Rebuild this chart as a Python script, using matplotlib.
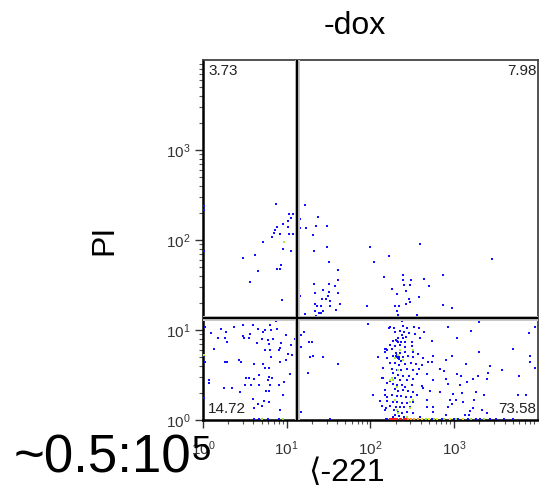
import numpy as np
import matplotlib
matplotlib.use("Agg")
import matplotlib.pyplot as plt
from matplotlib.ticker import NullFormatter

plt.rcParams['font.family'] = ['Liberation Sans', 'DejaVu Sans']
plt.rcParams['mathtext.fontset'] = 'custom'
plt.rcParams['mathtext.rm'] = 'Liberation Sans'

# all event values are log10 intensities (x: <-221 channel, y: PI)
# PI high, <-221 low
ul_x = [0.01, 0.01, 0.01, 0.87, 1.03, 1.07, 1.05, 1.01, 0.96, 0.88, 0.86, 0.85, 1.01, 0.82, 0.92,
        1.03, 1.07, 1.11, 0.72, 0.96, 1.05, 0.48, 0.62, 0.93, 0.88, 0.92, 0.66, 0.56, 0.94, 0.82]
ul_y = [2.38, 2.33, 1.88, 2.40, 2.29, 2.29, 2.24, 2.21, 2.18, 2.14, 2.11, 2.08, 2.14, 2.03, 2.07,
        2.07, 2.07, 2.03, 1.98, 1.90, 1.88, 1.80, 1.83, 1.72, 1.68, 1.68, 1.66, 1.53, 1.33, 1.14]

# PI high, <-221 high
ur_x = [1.16, 1.22, 1.37, 1.16, 1.23, 1.35, 1.48, 1.31, 1.48, 1.33, 1.50, 1.13, 1.33, 1.50, 1.43,
        1.34, 1.50, 1.61, 1.16, 1.49, 1.58, 1.61, 1.61, 1.42, 1.47, 1.52, 1.34, 1.36, 1.41, 1.52,
        1.64, 1.59, 1.34, 1.39, 1.41, 1.43, 1.22, 1.35, 1.99, 2.59, 2.04, 2.22, 2.16, 2.39, 2.87,
        2.39, 2.48, 2.40, 2.47, 2.64, 2.70, 2.26, 2.42, 2.32, 2.46, 2.47, 2.58, 1.96, 2.29, 2.34,
        2.42, 2.32, 2.33, 2.56, 2.87, 2.97, 3.45]
ur_y = [2.23, 2.39, 2.26, 2.13, 2.13, 2.16, 2.16, 2.06, 1.92, 1.88, 1.76, 1.64, 1.51, 1.51, 1.44,
        1.41, 1.42, 1.41, 1.38, 1.38, 1.49, 1.67, 1.56, 1.34, 1.34, 1.32, 1.29, 1.27, 1.27, 1.27,
        1.29, 1.22, 1.21, 1.19, 1.19, 1.21, 1.18, 1.16, 1.92, 1.96, 1.76, 1.82, 1.59, 1.61, 1.61,
        1.56, 1.56, 1.50, 1.50, 1.57, 1.49, 1.46, 1.43, 1.40, 1.34, 1.31, 1.37, 1.27, 1.27, 1.27,
        1.29, 1.21, 1.17, 1.17, 1.28, 1.24, 1.79]

# PI low, <-221 low
ll_x = [0.02, 0.10, 0.21, 0.27, 0.37, 0.48, 0.36, 0.60, 0.66, 0.72, 0.74, 0.80, 0.81, 0.88, 0.87,
        0.99, 0.48, 0.49, 0.55, 0.56, 0.26, 0.29, 0.18, 0.13, 0.70, 0.78, 0.84, 0.64, 0.79, 0.93,
        0.92, 1.10, 1.05, 0.74, 0.80, 0.91, 1.01, 1.06, 0.26, 0.29, 0.43, 0.45, 0.81, 0.61, 0.99,
        0.92, 0.74, 0.79, 0.72, 0.02, 1.04, 0.67, 0.79, 0.82, 0.78, 0.51, 0.55, 0.61, 0.07, 0.07,
        0.50, 0.57, 0.67, 0.80, 0.91, 0.97, 0.25, 0.35, 0.44, 0.75, 0.79, 0.96, 0.73, 0.79, 0.66,
        0.70, 0.92, 0.61, 0.60, 0.06, 0.47, 0.01, 0.01, 1.11]
ll_y = [1.03, 0.97, 1.01, 0.98, 1.03, 1.06, 1.11, 1.06, 1.01, 0.98, 1.00, 1.06, 1.00, 1.01, 1.10,
        0.94, 0.93, 0.91, 0.91, 0.96, 0.91, 0.87, 0.91, 0.79, 0.90, 0.89, 0.90, 0.86, 0.84, 0.86,
        0.80, 0.90, 0.83, 0.78, 0.78, 0.78, 0.73, 0.72, 0.64, 0.64, 0.67, 0.64, 0.70, 0.62, 0.67,
        0.64, 0.58, 0.58, 0.62, 0.64, 0.51, 0.50, 0.48, 0.47, 0.44, 0.47, 0.47, 0.46, 0.44, 0.41,
        0.39, 0.39, 0.39, 0.39, 0.39, 0.42, 0.36, 0.36, 0.31, 0.32, 0.32, 0.28, 0.21, 0.20, 0.18,
        0.16, 0.11, 0.13, 0.23, 0.04, 1.11, 0.71, 0.24, 0.80]

# PI low, between the gate and the main population
lm_x = [1.16, 1.13, 1.21, 1.15, 1.17, 1.13, 1.27, 1.30, 1.17, 1.13, 1.28, 1.31, 1.43, 1.61, 1.25,
        1.97, 2.09, 2.19, 2.17, 2.14, 2.03, 2.17, 2.11, 2.14, 2.19, 1.17, 1.52, 2.22, 1.36]
lm_y = [1.11, 1.07, 0.98, 0.94, 0.94, 0.89, 0.87, 0.87, 0.81, 0.74, 0.70, 0.71, 0.70, 0.62, 0.52,
        1.07, 0.70, 0.79, 0.76, 0.47, 0.28, 0.28, 0.21, 0.16, 0.13, 0.09, 0.01, 1.02, 1.14]

# main live population around 220
cl_x = [2.38, 2.23, 2.28, 2.39, 2.44, 2.52, 2.58, 2.64, 2.29, 2.35,
        2.40, 2.46, 2.38, 2.42, 2.33, 2.39, 2.53, 2.59, 2.27, 2.32,
        2.36, 2.41, 2.50, 2.23, 2.29, 2.35, 2.41, 2.50, 2.17, 2.20,
        2.26, 2.30, 2.35, 2.41, 2.51, 2.57, 2.27, 2.32, 2.34, 2.36,
        2.39, 2.45, 2.51, 2.63, 2.20, 2.23, 2.29, 2.34, 2.41, 2.48,
        2.54, 2.61, 2.15, 2.26, 2.32, 2.36, 2.44, 2.51, 2.58, 2.15,
        2.27, 2.33, 2.39, 2.46, 2.56, 2.29, 2.35, 2.44, 2.51, 2.23,
        2.20, 2.27, 2.32, 2.38, 2.41, 2.50, 2.61, 2.63, 2.17, 2.29,
        2.33, 2.39, 2.45, 2.51, 2.26, 2.32, 2.36, 2.42, 2.48, 2.56,
        2.20, 2.20, 2.27, 2.32, 2.38, 2.44, 2.51, 2.23, 2.30, 2.35,
        2.40, 2.47, 2.17, 2.28, 2.33, 2.38, 2.44, 2.51, 2.29, 2.34,
        2.40, 2.27, 2.59, 2.30, 2.33, 2.32, 2.34, 2.30, 2.33]
cl_y = [1.10, 1.03, 1.02, 1.04, 1.02, 1.03, 1.02, 0.98, 0.98, 0.99,
        0.98, 0.97, 0.94, 0.92, 0.91, 0.91, 0.96, 0.91, 0.88, 0.88,
        0.87, 0.87, 0.87, 0.83, 0.82, 0.83, 0.81, 0.82, 0.79, 0.78,
        0.79, 0.74, 0.74, 0.76, 0.76, 0.73, 0.71, 0.70, 0.68, 0.66,
        0.70, 0.71, 0.70, 0.69, 0.69, 0.63, 0.63, 0.61, 0.62, 0.63,
        0.62, 0.61, 0.58, 0.57, 0.56, 0.56, 0.57, 0.56, 0.57, 0.47,
        0.52, 0.50, 0.49, 0.49, 0.51, 0.47, 0.44, 0.44, 0.46, 0.43,
        0.41, 0.40, 0.39, 0.39, 0.37, 0.39, 0.38, 0.36, 0.33, 0.34,
        0.32, 0.33, 0.32, 0.31, 0.28, 0.27, 0.27, 0.26, 0.26, 0.28,
        0.26, 0.21, 0.20, 0.20, 0.19, 0.19, 0.20, 0.16, 0.14, 0.14,
        0.14, 0.14, 0.11, 0.11, 0.09, 0.08, 0.09, 0.08, 0.06, 0.04,
        0.03, 0.03, 0.03, 0.71, 0.69, 0.72, 0.70, 0.89, 0.87]

# PI low, <-221 high, scattered
lr_x = [2.93, 3.30, 3.20, 3.03, 2.73, 3.70, 3.30, 2.75, 2.97, 3.90,
        2.69, 2.73, 2.90, 3.14, 3.43, 3.90, 2.83, 2.88, 3.57, 3.40,
        3.03, 3.08, 2.67, 3.28, 3.39, 3.22, 3.77, 2.75, 2.90, 2.93,
        3.15, 3.07, 2.71, 2.83, 2.99, 3.09, 3.26, 3.36, 3.76, 3.86,
        2.67, 2.95, 3.02, 3.24, 2.97, 3.10, 2.67, 2.75, 2.93, 3.22,
        3.33, 3.39, 3.19, 3.13, 3.18, 2.75, 2.90, 3.96, 3.89, 3.96]
lr_y = [1.03, 1.09, 0.99, 0.91, 0.88, 0.79, 0.76, 0.71, 0.71, 0.71,
        0.64, 0.64, 0.67, 0.62, 0.60, 0.64, 0.57, 0.54, 0.56, 0.52,
        0.51, 0.49, 0.51, 0.49, 0.46, 0.46, 0.49, 0.44, 0.46, 0.40,
        0.42, 0.39, 0.32, 0.31, 0.29, 0.30, 0.31, 0.28, 0.28, 0.28,
        0.22, 0.22, 0.22, 0.22, 0.18, 0.20, 0.14, 0.14, 0.14, 0.13,
        0.11, 0.08, 0.10, 0.06, 0.06, 0.09, 0.06, 1.03, 0.97, 0.58]

# denser spots (green on the density map)
gr_x = [0.97, 2.35, 2.33, 2.29, 2.26, 2.27, 2.33, 2.32, 2.29, 2.47,
        2.47, 2.32, 2.44, 2.51, 2.23, 2.39, 2.51, 2.33, 0.01]
gr_y = [1.98, 0.78, 0.72, 0.69, 0.47, 0.44, 0.56, 0.37, 0.22, 0.20,
        0.13, 0.11, 0.03, 0.78, 0.44, 0.67, 0.22, 0.08, 0.72]

# events piled up at the PI floor, by density
floor_y = 0.015
floor_red_x = [2.23, 2.26, 2.28, 2.30, 2.32, 2.35, 2.37, 2.40, 2.42]
floor_orange_x = [2.45, 2.48, 2.52, 2.57]
floor_yellow_x = [2.62, 2.70, 2.80, 2.95, 3.10]
floor_green_x = [0.70, 0.95, 2.66, 2.76, 2.88, 3.02, 3.20, 3.35]
floor_blue_x = [0.61, 0.67, 0.78, 0.91, 1.52, 2.18, 2.20, 2.73, 2.85, 3.00,
                3.05, 3.16, 3.26, 3.31, 3.43, 3.50, 3.60, 3.70]

gate_x = 13.2
gate_y = 13.6
quad_labels = ['3.73', '7.98', '14.72', '73.58']

fig = plt.figure(figsize=(5.39, 4.98), dpi=100)
ax = fig.add_axes([0.3766, 0.1566, 0.6215, 0.7229])

blue = '#1010ff'
for lx, ly in [(ul_x, ul_y), (ur_x, ur_y), (ll_x, ll_y), (lm_x, lm_y), (cl_x, cl_y), (lr_x, lr_y)]:
    ax.scatter(10 ** np.array(lx), 10 ** np.array(ly), s=2.4, marker='s', c=blue,
               linewidths=0, antialiased=False, zorder=3)
ax.scatter(10 ** np.array(gr_x), 10 ** np.array(gr_y), s=2.4, marker='s', c='#a6f03c',
           linewidths=0, antialiased=False, zorder=3)

for fx, col in [(floor_blue_x, blue), (floor_green_x, '#8ee03a'), (floor_yellow_x, '#f0e020'),
                (floor_orange_x, '#ff9a1a'), (floor_red_x, '#ff1a1a')]:
    ax.scatter(10 ** np.array(fx), np.full(len(fx), 10 ** floor_y), s=4, marker='s', c=col,
               linewidths=0, zorder=5, clip_on=False)

# quadrant gate
for lw, col in [(3.6, '#c8c8c8'), (1.6, 'black')]:
    ax.axvline(gate_x, color=col, lw=lw, zorder=4)
    ax.axhline(gate_y, color=col, lw=lw, zorder=4)

ax.set_xscale('log')
ax.set_yscale('log')
ax.set_xlim(1, 1e4)
ax.set_ylim(1, 1e4)

dec = [1, 10, 100, 1000]
dec_labels = [r'$\mathregular{10^{%d}}$' % k for k in range(4)]
ax.set_xticks(dec, dec_labels)
ax.set_yticks(dec, dec_labels)
ax.xaxis.set_minor_formatter(NullFormatter())
ax.yaxis.set_minor_formatter(NullFormatter())
ax.tick_params(which='major', length=6, width=1, color='#333333', labelsize=11,
               labelcolor='#333333')
ax.tick_params(which='minor', length=3, width=0.8, color='#555555')
ax.tick_params(axis='x', pad=8)
ax.tick_params(axis='y', pad=3)

for side in ['left', 'bottom']:
    ax.spines[side].set_linewidth(1.8)
    ax.spines[side].set_color('black')
for side in ['top', 'right']:
    ax.spines[side].set_linewidth(1.3)
    ax.spines[side].set_color('#444444')

box = dict(facecolor='white', edgecolor='none', pad=0.6)
ax.text(0.015, 0.99, quad_labels[0], transform=ax.transAxes, ha='left', va='top',
        fontsize=11, color='#222222', zorder=6)
ax.text(0.995, 0.99, quad_labels[1], transform=ax.transAxes, ha='right', va='top',
        fontsize=11, color='#222222', zorder=6)
ax.text(0.015, 0.01, quad_labels[2], transform=ax.transAxes, ha='left', va='bottom',
        fontsize=11, color='#222222', bbox=box, zorder=6)
ax.text(0.995, 0.01, quad_labels[3], transform=ax.transAxes, ha='right', va='bottom',
        fontsize=11, color='#222222', bbox=box, zorder=6)

fig.text(355 / 539, 1 - 26 / 498, '-dox', ha='center', va='center', fontsize=23)
fig.text(104 / 539, 1 - 240 / 498, 'PI', rotation=90, ha='center', va='center', fontsize=23)
fig.text(346 / 539, 1 - 473 / 498, '⟨-221', ha='center', va='center', fontsize=23)
fig.text(14 / 539, 1 - 472 / 498, '~0.5:10', ha='left', va='baseline', fontsize=38)
fig.text(192 / 539, 1 - 460 / 498, '5', ha='left', va='baseline', fontsize=25)

fig.savefig('out.png', dpi=100)
